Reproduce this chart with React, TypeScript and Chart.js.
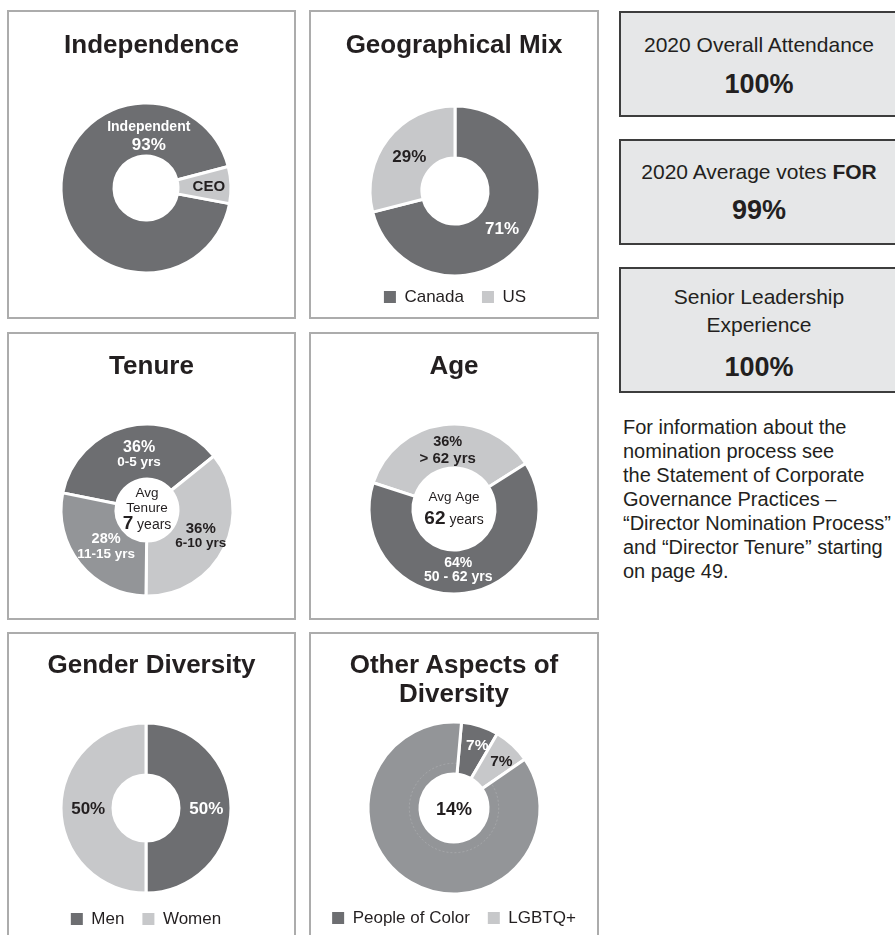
import React, { useEffect, useRef } from 'react';
import { Chart, registerables } from 'chart.js';

Chart.register(...registerables);

// ---------------- data ----------------
const independenceLabels = ['Independent', 'CEO'];
const independenceValues = [93, 7];

const geoLabels = ['Canada', 'US'];
const geoValues = [71, 29];

const tenureLabels = ['0-5 yrs', '6-10 yrs', '11-15 yrs'];
const tenureValues = [36, 36, 28];
const avgTenureYears = 7;

const ageLabels = ['> 62 yrs', '50 - 62 yrs'];
const ageValues = [36, 64];
const avgAgeYears = 62;

const genderLabels = ['Men', 'Women'];
const genderValues = [50, 50];

const otherLabels = ['People of Color', 'LGBTQ+', 'Other'];
const otherValues = [7, 7, 86];
const otherTotal = 14;

// ---------------- styles ----------------
const FONT = '"Liberation Sans", Arial, Helvetica, sans-serif';
const INK = '#231f20';
const DARK = '#6d6e71';
const LIGHT = '#c7c8ca';
const MID = '#939598';
const WHITE = '#ffffff';

type Part = { text: string; size: number; bold?: boolean };
type Line = Part[];
type SliceLabel = { lines: Line[]; color: string; frac: number; angle?: number; gap: number } | null;

interface PanelCfg {
  key: string;
  left: number; top: number; w: number; h: number;
  title: string[]; titleBaseline: number;
  cx: number; cy: number; r: number; hole: number;
  labels: string[]; values: number[]; colors: string[]; rotation: number;
  sliceLabels: SliceLabel[];
  center?: { lines: Line[]; offsets: number[] };
  legendCount?: number; legendY?: number;
  faintRing?: number;
}

const pct = (v: number) => `${v}%`;

const panels: PanelCfg[] = [
  {
    key: 'independence', left: 7, top: 10, w: 289, h: 309,
    title: ['Independence'], titleBaseline: 43,
    cx: 146, cy: 188, r: 85, hole: 32,
    labels: independenceLabels, values: independenceValues, colors: [DARK, LIGHT], rotation: 100.6,
    sliceLabels: [
      { lines: [[{ text: independenceLabels[0], size: 14, bold: true }], [{ text: pct(independenceValues[0]), size: 17, bold: true }]], color: WHITE, frac: 0.62, angle: 3, gap: 18 },
      { lines: [[{ text: independenceLabels[1], size: 15, bold: true }]], color: INK, frac: 0.74, gap: 0 },
    ],
  },
  {
    key: 'geo', left: 309, top: 10, w: 290, h: 309,
    title: ['Geographical Mix'], titleBaseline: 43,
    cx: 455, cy: 191, r: 85, hole: 33,
    labels: geoLabels, values: geoValues, colors: [DARK, LIGHT], rotation: 0,
    sliceLabels: [
      { lines: [[{ text: pct(geoValues[0]), size: 17, bold: true }]], color: WHITE, frac: 0.7, gap: 0 },
      { lines: [[{ text: pct(geoValues[1]), size: 17, bold: true }]], color: INK, frac: 0.68, gap: 0 },
    ],
    legendCount: 2, legendY: 297,
  },
  {
    key: 'tenure', left: 7, top: 332, w: 289, h: 288,
    title: ['Tenure'], titleBaseline: 42,
    cx: 147, cy: 510, r: 86, hole: 31,
    labels: tenureLabels, values: tenureValues, colors: [DARK, LIGHT, MID], rotation: -78.5,
    sliceLabels: [
      { lines: [[{ text: pct(tenureValues[0]), size: 16, bold: true }], [{ text: tenureLabels[0], size: 13.5, bold: true }]], color: WHITE, frac: 0.66, angle: 352, gap: 14.5 },
      { lines: [[{ text: pct(tenureValues[1]), size: 15, bold: true }], [{ text: tenureLabels[1], size: 13.5, bold: true }]], color: INK, frac: 0.69, angle: 115, gap: 15 },
      { lines: [[{ text: pct(tenureValues[2]), size: 14.5, bold: true }], [{ text: tenureLabels[2], size: 13.5, bold: true }]], color: WHITE, frac: 0.63, angle: 229, gap: 15 },
    ],
    center: {
      lines: [
        [{ text: 'Avg', size: 13.5 }],
        [{ text: 'Tenure', size: 13.5 }],
        [{ text: String(avgTenureYears), size: 19, bold: true }, { text: ' years', size: 14 }],
      ],
      offsets: [-18, -3, 12],
    },
  },
  {
    key: 'age', left: 309, top: 332, w: 290, h: 288,
    title: ['Age'], titleBaseline: 42,
    cx: 454, cy: 509, r: 85, hole: 41,
    labels: ageLabels, values: ageValues, colors: [LIGHT, DARK], rotation: -72,
    sliceLabels: [
      { lines: [[{ text: pct(ageValues[0]), size: 14.5, bold: true }], [{ text: ageLabels[0], size: 15, bold: true }]], color: INK, frac: 0.71, angle: 354, gap: 17 },
      { lines: [[{ text: pct(ageValues[1]), size: 14, bold: true }], [{ text: ageLabels[1], size: 14, bold: true }]], color: WHITE, frac: 0.71, angle: 176, gap: 13.5 },
    ],
    center: {
      lines: [
        [{ text: 'Avg Age', size: 13.5 }],
        [{ text: String(avgAgeYears), size: 19, bold: true }, { text: ' years', size: 14 }],
      ],
      offsets: [-13, 8],
    },
  },
  {
    key: 'gender', left: 7, top: 632, w: 289, h: 312,
    title: ['Gender Diversity'], titleBaseline: 41,
    cx: 146, cy: 808, r: 85, hole: 33,
    labels: genderLabels, values: genderValues, colors: [DARK, LIGHT], rotation: 0,
    sliceLabels: [
      { lines: [[{ text: pct(genderValues[0]), size: 17, bold: true }]], color: WHITE, frac: 0.71, gap: 0 },
      { lines: [[{ text: pct(genderValues[1]), size: 17, bold: true }]], color: INK, frac: 0.68, gap: 0 },
    ],
    legendCount: 2, legendY: 919,
  },
  {
    key: 'other', left: 309, top: 632, w: 290, h: 312,
    title: ['Other Aspects of', 'Diversity'], titleBaseline: 41,
    cx: 454, cy: 808, r: 86, hole: 34,
    labels: otherLabels, values: otherValues, colors: [DARK, LIGHT, MID], rotation: 5,
    sliceLabels: [
      { lines: [[{ text: pct(otherValues[0]), size: 15.5, bold: true }]], color: WHITE, frac: 0.79, angle: 20, gap: 0 },
      { lines: [[{ text: pct(otherValues[1]), size: 15.5, bold: true }]], color: INK, frac: 0.78, angle: 45, gap: 0 },
      null,
    ],
    center: { lines: [[{ text: pct(otherTotal), size: 18, bold: true }]], offsets: [1] },
    legendCount: 2, legendY: 918,
    faintRing: 0.52,
  },
];

const fontStr = (p: Part) => `${p.bold ? 'bold ' : ''}${p.size}px ${FONT}`;

function drawLine(ctx: CanvasRenderingContext2D, cx: number, cy: number, parts: Line, color: string) {
  let total = 0;
  let maxSize = 0;
  const widths = parts.map((p) => {
    ctx.font = fontStr(p);
    const w = ctx.measureText(p.text).width;
    total += w;
    maxSize = Math.max(maxSize, p.size);
    return w;
  });
  let x = cx - total / 2;
  const base = cy + 0.36 * maxSize;
  ctx.fillStyle = color;
  ctx.textAlign = 'left';
  ctx.textBaseline = 'alphabetic';
  parts.forEach((p, i) => {
    ctx.font = fontStr(p);
    ctx.fillText(p.text, x, base);
    x += widths[i];
  });
}

function makeLabelPlugin(p: PanelCfg) {
  return {
    id: 'sliceLabels_' + p.key,
    afterDatasetsDraw(chart: any) {
      const ctx: CanvasRenderingContext2D = chart.ctx;
      const meta = chart.getDatasetMeta(0);
      ctx.save();
      if (p.faintRing && meta.data.length) {
        // faint inner guide ring visible inside the largest slice
        const last = meta.data[meta.data.length - 1];
        const { x, y, startAngle, endAngle, outerRadius } = last.getProps(['x', 'y', 'startAngle', 'endAngle', 'outerRadius'], true);
        ctx.beginPath();
        ctx.arc(x, y, outerRadius * p.faintRing, startAngle + 0.06, endAngle - 0.03);
        ctx.strokeStyle = 'rgba(255,255,255,0.16)';
        ctx.lineWidth = 1;
        ctx.setLineDash([2, 2]);
        ctx.stroke();
        ctx.setLineDash([]);
      }
      meta.data.forEach((arc: any, i: number) => {
        const spec = p.sliceLabels[i];
        if (!spec) return;
        const { x, y, startAngle, endAngle, outerRadius } = arc.getProps(['x', 'y', 'startAngle', 'endAngle', 'outerRadius'], true);
        const a = spec.angle !== undefined ? ((spec.angle - 90) * Math.PI) / 180 : (startAngle + endAngle) / 2;
        const rr = outerRadius * spec.frac;
        const lx = x + Math.cos(a) * rr;
        const ly = y + Math.sin(a) * rr;
        const n = spec.lines.length;
        spec.lines.forEach((line, j) => {
          drawLine(ctx, lx, ly - ((n - 1) * spec.gap) / 2 + j * spec.gap, line, spec.color);
        });
      });
      if (p.center && meta.data.length) {
        const { x, y } = meta.data[0].getProps(['x', 'y'], true);
        p.center.lines.forEach((line, j) => drawLine(ctx, x, y + p.center!.offsets[j], line, INK));
      }
      ctx.restore();
    },
  };
}

const BORDER = 2;
const LEGEND_FONT = 17;
const LEGEND_PAD = 18;

function DonutPanel({ p }: { p: PanelCfg }) {
  const ref = useRef<HTMLCanvasElement>(null);
  const W = p.w - BORDER * 2;
  const H = p.h - BORDER * 2;

  useEffect(() => {
    const canvas = ref.current;
    if (!canvas) return;
    const cxRel = p.cx - p.left - BORDER;
    const cyRel = p.cy - p.top - BORDER;
    const hasLegend = !!p.legendCount;
    const a = hasLegend ? p.legendY! - p.top - BORDER - (LEGEND_PAD + LEGEND_FONT / 2) - cyRel : 90;
    const legendH = LEGEND_FONT + LEGEND_PAD + 10;
    const hw = Math.min(cxRel, W - cxRel);
    const padding = {
      left: cxRel - hw,
      right: W - cxRel - hw,
      top: cyRel - a,
      bottom: hasLegend ? H - (cyRel + a) - legendH : H - cyRel - a,
    };
    const chart = new Chart(canvas, {
      type: 'doughnut',
      data: {
        labels: p.labels,
        datasets: [
          {
            data: p.values,
            backgroundColor: p.colors,
            borderColor: WHITE,
            borderWidth: 3,
          },
        ],
      },
      options: {
        responsive: false,
        animation: false,
        events: [],
        devicePixelRatio: 1,
        radius: p.r,
        cutout: `${(p.hole / p.r) * 100}%`,
        rotation: p.rotation,
        layout: { padding },
        plugins: {
          title: { display: false },
          tooltip: { enabled: false },
          legend: {
            display: hasLegend,
            position: 'bottom',
            align: 'center',
            labels: {
              boxWidth: 12,
              boxHeight: 12,
              padding: LEGEND_PAD,
              color: INK,
              font: { family: FONT, size: LEGEND_FONT },
              generateLabels: (ch: any) => {
                const ds = ch.data.datasets[0];
                return (ch.data.labels as string[])
                  .map((l: string, i: number) => ({
                    text: l,
                    fillStyle: ds.backgroundColor[i],
                    strokeStyle: ds.backgroundColor[i],
                    lineWidth: 0,
                    hidden: false,
                    index: i,
                    fontColor: INK,
                  }))
                  .filter((_: any, i: number) => i < (p.legendCount || 0));
              },
            },
          },
        },
      } as any,
      plugins: [makeLabelPlugin(p)],
    });
    return () => chart.destroy();
  }, []);

  return (
    <div
      style={{
        position: 'absolute',
        left: p.left,
        top: p.top,
        width: p.w,
        height: p.h,
        boxSizing: 'border-box',
        border: `${BORDER}px solid #acacac`,
        background: '#fff',
      }}
    >
      <canvas ref={ref} width={W} height={H} style={{ position: 'absolute', left: 0, top: 0, width: W, height: H }} />
      <div
        style={{
          position: 'absolute',
          left: 0,
          right: 0,
          top: p.titleBaseline - BORDER - 23.5,
          textAlign: 'center',
          font: `bold 26px ${FONT}`,
          lineHeight: '29px',
          color: INK,
          whiteSpace: 'nowrap',
        }}
      >
        {p.title.map((t) => (
          <div key={t}>{t}</div>
        ))}
      </div>
    </div>
  );
}

type StatLine = { parts: { text: string; bold?: boolean; size: number }[]; y: number };
interface StatBox { top: number; h: number; lines: StatLine[] }

const statBoxes: StatBox[] = [
  {
    top: 11, h: 106,
    lines: [
      { parts: [{ text: '2020 Overall Attendance', size: 21 }], y: 34 },
      { parts: [{ text: '100%', size: 27, bold: true }], y: 72.5 },
    ],
  },
  {
    top: 139, h: 106,
    lines: [
      { parts: [{ text: '2020 Average votes ', size: 21 }, { text: 'FOR', size: 21, bold: true }], y: 33 },
      { parts: [{ text: '99%', size: 27, bold: true }], y: 71 },
    ],
  },
  {
    top: 267, h: 126,
    lines: [
      { parts: [{ text: 'Senior Leadership', size: 21 }], y: 30 },
      { parts: [{ text: 'Experience', size: 21 }], y: 58 },
      { parts: [{ text: '100%', size: 27, bold: true }], y: 100 },
    ],
  },
];

const noteLines = [
  'For information about the',
  'nomination process see',
  'the Statement of Corporate',
  'Governance Practices \u2013',
  '\u201CDirector Nomination Process\u201D',
  'and \u201CDirector Tenure\u201D starting',
  'on page 49.',
];

export default function App() {
  return (
    <div
      style={{
        position: 'fixed',
        left: 0,
        top: 0,
        width: 895,
        height: 935,
        overflow: 'hidden',
        background: '#ffffff',
        fontFamily: FONT,
        color: INK,
      }}
    >
      {panels.map((p) => (
        <DonutPanel key={p.key} p={p} />
      ))}
      {statBoxes.map((b, i) => (
        <div
          key={i}
          style={{
            position: 'absolute',
            left: 619,
            top: b.top,
            width: 280,
            height: b.h,
            boxSizing: 'border-box',
            border: '2px solid #3d3d3d',
            background: '#e6e7e8',
          }}
        >
          {b.lines.map((l, j) => (
            <div
              key={j}
              style={{
                position: 'absolute',
                left: 0,
                right: 0,
                top: l.y - 2 - 15,
                height: 30,
                lineHeight: '30px',
                textAlign: 'center',
                whiteSpace: 'nowrap',
                color: INK,
              }}
            >
              {l.parts.map((pt, k) => (
                <span key={k} style={{ fontSize: pt.size, fontWeight: pt.bold ? 'bold' : 'normal' }}>
                  {pt.text}
                </span>
              ))}
            </div>
          ))}
        </div>
      ))}
      <div
        style={{
          position: 'absolute',
          left: 623,
          top: 427 - 12,
          fontSize: 20,
          lineHeight: '24px',
          whiteSpace: 'nowrap',
          color: INK,
        }}
      >
        {noteLines.map((t, i) => (
          <div key={i}>{t}</div>
        ))}
      </div>
    </div>
  );
}
